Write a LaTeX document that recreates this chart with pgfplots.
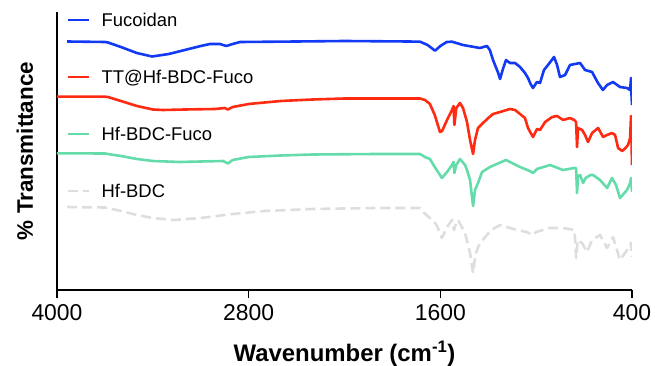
\documentclass[border=0pt]{standalone}
\usepackage{fontspec}
\setmainfont{Liberation Sans}
\usepackage{pgfplots}
\pgfplotsset{compat=1.18}
\definecolor{cblue}{RGB}{18,58,245}
\definecolor{cred}{RGB}{255,42,18}
\definecolor{cgreen}{RGB}{100,220,170}
\definecolor{cgray}{RGB}{222,222,222}
\begin{document}
\begin{tikzpicture}
\begin{axis}[name=ax, scale only axis, width=575bp, height=278bp,
  x dir=reverse, xmin=400, xmax=4000, ymin=-290, ymax=-12,
  axis x line*=bottom, axis y line*=left,
  axis line style={line width=1.8bp, black},
  xtick={4000,2800,1600,400}, ytick=\empty,
  tick align=outside, major tick length=8bp,
  xtick style={line width=1.6bp, black},
  /pgf/number format/assume math mode=true,
  /pgf/number format/set thousands separator={},
  xticklabel style={font=\fontsize{23}{23}\selectfont, yshift=-3bp},
  xlabel={\textbf{Wavenumber (cm\textsuperscript{-1})}},
  ylabel={\textbf{\% Transmittance}},
  xlabel style={font=\fontsize{24}{24}\selectfont, at={(axis description cs:0.5,0)}, anchor=base, yshift=-71.7bp},
  ylabel style={font=\fontsize{22.5}{22.5}\selectfont, at={([xshift=-24bp]axis description cs:0,0.5)}, anchor=base},
  every axis plot/.append style={line width=2.6bp, line join=round},
  legend cell align=left,
  legend style={draw=none, fill=none, at={(0,1)}, anchor=north west, xshift=10bp, yshift=-1.5bp,
    inner sep=0pt, outer sep=0pt, row sep=43.8bp, column sep=11bp,
    font=\fontsize{18.5}{18.5}\selectfont,
    nodes={inner sep=0pt, text height=13.2bp, text depth=0bp}},
  legend image code/.code={\draw[#1] (0bp,0bp) -- (21bp,0bp);},
]
\addplot[cblue] coordinates {
(3937,-41.5)(3700,-42)(3681,-42.5)(3600,-47)(3500,-53)(3405,-56.5)(3300,-54)(3200,-50)(3100,-46)(3042,-44)(2980,-44)(2940,-46)(2900,-44)(2854,-42)(2500,-41.5)(2200,-41)(1800,-41.5)(1727,-41.7)(1680,-45)(1633,-50.7)(1600,-46)(1560,-42)(1527,-41.7)(1458,-45)(1352,-48)(1308,-46)(1290,-50)(1270,-60)(1240,-72)(1226,-79)(1210,-70)(1189,-60)(1164,-63)(1132,-63)(1101,-67)(1070,-73)(1051,-78)(1035,-84)(1020,-88)(995,-82)(976,-83)(951,-70)(926,-65)(888,-57)(869,-65)(851,-77)(819,-75)(788,-65)(725,-63)(694,-70)(650,-72)(613,-83)(582,-90)(556,-85)(519,-82)(475,-87)(431,-88)(412,-90)(406,-78)(403,-95)(400,-105)
};
\addlegendentry{Fucoidan}
\addplot[cred] coordinates {
(4000,-96.7)(3700,-96.7)(3681,-97)(3600,-101)(3500,-106)(3400,-109.5)(3336,-110)(3200,-109.5)(3010,-109)(2950,-108)(2930,-109.5)(2900,-107)(2800,-104)(2600,-101)(2400,-99.5)(2200,-98.5)(1727,-98.5)(1696,-100)(1665,-104)(1635,-115)(1602,-132)(1589,-131)(1558,-120)(1527,-110)(1517,-106)(1512,-125)(1500,-108)(1477,-103)(1458,-108)(1433,-122)(1414,-140)(1395,-154)(1383,-140)(1364,-128)(1339,-124)(1300,-118)(1270,-114)(1226,-112)(1164,-109)(1132,-110)(1101,-114)(1070,-118)(1051,-128)(1020,-137)(995,-129)(976,-130)(944,-122)(900,-117)(869,-116)(831,-120)(788,-118)(762,-120)(750,-122)(744,-147)(738,-128)(712,-130)(694,-135)(675,-142)(650,-133)(612,-128)(581,-137)(556,-135)(525,-133)(506,-135)(487,-148)(462,-151)(440,-148)(425,-145)(412,-138)(406,-116)(403,-140)(400,-165)
};
\addlegendentry{TT@Hf-BDC-Fuco}
\addplot[cgreen] coordinates {
(4000,-153.3)(3700,-153.5)(3681,-154)(3600,-156)(3500,-159)(3400,-161)(3230,-162)(3100,-161.5)(2960,-161)(2930,-163.5)(2900,-160)(2800,-157)(2600,-155.5)(2400,-154.5)(2000,-154)(1727,-154)(1696,-157)(1665,-159)(1635,-167)(1590,-178)(1558,-172)(1527,-165)(1517,-162)(1512,-173)(1500,-165)(1477,-159)(1445,-165)(1433,-170)(1414,-180)(1395,-206)(1383,-190)(1364,-183)(1339,-172)(1289,-167)(1189,-160)(1101,-167)(1040,-171)(1020,-173)(995,-169)(913,-165)(832,-170)(762,-168)(750,-168)(744,-193)(738,-176)(725,-175)(706,-183)(690,-178)(660,-175)(644,-175)(600,-180)(556,-188)(525,-178)(500,-185)(475,-198)(431,-190)(412,-183)(406,-178)(400,-192)
};
\addlegendentry{Hf-BDC-Fuco}
\addplot[cgray, dash pattern=on 10bp off 5bp] coordinates {
(3937,-207)(3700,-207.5)(3681,-208)(3600,-211)(3500,-215)(3400,-218)(3274,-220)(3100,-218)(2900,-214)(2700,-211)(2400,-209)(2000,-208)(1727,-208)(1708,-212)(1665,-218)(1646,-220)(1620,-226)(1590,-238)(1558,-227)(1527,-220)(1514,-230)(1500,-222)(1489,-220)(1445,-233)(1414,-253)(1395,-273)(1380,-255)(1364,-247)(1320,-237)(1280,-230)(1226,-225)(1120,-230)(1060,-232)(1020,-235)(1000,-232)(913,-228)(832,-228)(760,-230)(750,-258)(740,-240)(713,-243)(682,-252)(650,-240)(600,-235)(556,-248)(519,-237)(475,-260)(431,-250)(406,-243)(400,-257)
};
\addlegendentry{Hf-BDC}
\end{axis}
\pgfresetboundingbox
\useasboundingbox ([xshift=-57bp,yshift=-76bp]ax.south west) rectangle ([xshift=23bp,yshift=12bp]ax.north east);
\end{tikzpicture}
\end{document}
